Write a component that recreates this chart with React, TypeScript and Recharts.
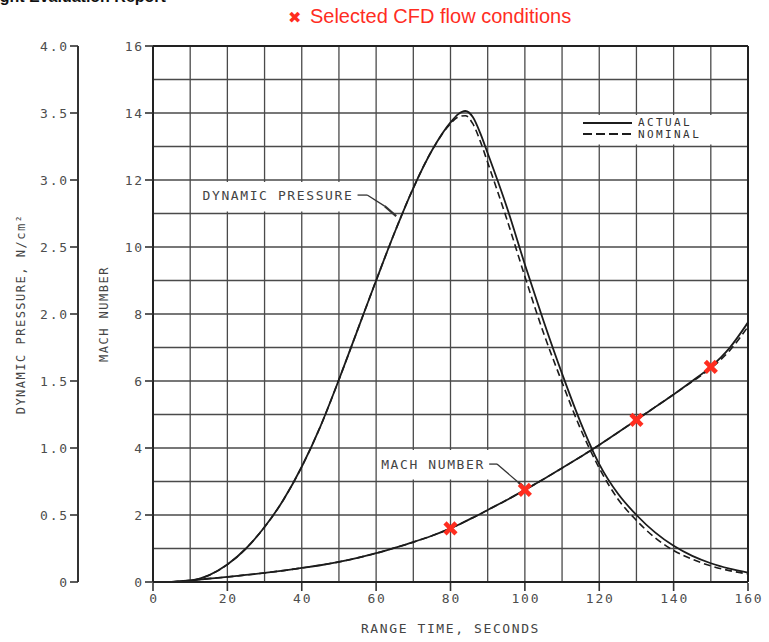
import {
  ComposedChart,
  Line,
  Scatter,
  XAxis,
  YAxis,
  CartesianGrid,
  Legend,
  ReferenceLine,
  ReferenceArea,
  ReferenceDot,
} from "recharts";

// range time, seconds
const times = [
  5, 10, 15, 20, 25, 30, 35, 40, 45, 50, 55, 60, 65, 70, 75, 80, 82, 84, 86, 88,
  90, 95, 100, 105, 110, 115, 120, 125, 130, 135, 140, 145, 150, 155, 160,
];
// dynamic pressure, N/cm2
const pressureActual = [
  0, 0.01, 0.05, 0.13, 0.25, 0.41, 0.61, 0.86, 1.16, 1.51, 1.88, 2.25, 2.61, 2.94,
  3.22, 3.43, 3.49, 3.515, 3.47, 3.35, 3.2, 2.81, 2.37, 1.95, 1.555, 1.19, 0.88,
  0.66, 0.5, 0.37, 0.27, 0.195, 0.14, 0.1, 0.07,
];
const pressureNominal = [
  0, 0.01, 0.05, 0.13, 0.25, 0.41, 0.61, 0.86, 1.16, 1.51, 1.88, 2.25, 2.61, 2.94,
  3.22, 3.42, 3.47, 3.48, 3.42, 3.29, 3.13, 2.72, 2.28, 1.86, 1.49, 1.14, 0.85,
  0.62, 0.46, 0.33, 0.235, 0.17, 0.12, 0.085, 0.06,
];
// mach number
const machActual = [
  0, 0.05, 0.1, 0.15, 0.21, 0.27, 0.34, 0.42, 0.5, 0.6, 0.72, 0.86, 1.02, 1.19,
  1.38, 1.6, 1.7, 1.81, 1.92, 2.03, 2.15, 2.44, 2.75, 3.07, 3.4, 3.74, 4.09, 4.46,
  4.84, 5.22, 5.6, 6.0, 6.42, 6.98, 7.75,
];
const machNominal = [
  0, 0.05, 0.1, 0.15, 0.21, 0.27, 0.34, 0.42, 0.5, 0.6, 0.72, 0.86, 1.02, 1.19,
  1.38, 1.6, 1.7, 1.81, 1.92, 2.03, 2.15, 2.44, 2.75, 3.07, 3.4, 3.74, 4.09, 4.46,
  4.84, 5.22, 5.6, 5.98, 6.38, 6.9, 7.62,
];

// selected CFD flow conditions
const cfdTimes = [80, 100, 130, 150];
const cfdMach = [1.6, 2.75, 4.84, 6.42];

const timeTicks = [0, 10, 20, 30, 40, 50, 60, 70, 80, 90, 100, 110, 120, 130, 140, 150, 160];
const pressureTicks = [0, 0.5, 1, 1.5, 2, 2.5, 3, 3.5, 4];
const machTicks = [0, 1, 2, 3, 4, 5, 6, 7, 8, 9, 10, 11, 12, 13, 14, 15, 16];
const legendLabels = ["ACTUAL", "NOMINAL"];

const rows = times.map((t, i) => ({
  t,
  pActual: pressureActual[i],
  pNominal: pressureNominal[i],
  mActual: machActual[i],
  mNominal: machNominal[i],
}));
const cfdPoints = cfdTimes.map((t, i) => ({ t, mach: cfdMach[i] }));

const mono = "'DejaVu Sans Mono', monospace";
const ink = "#1c1c1c";
const grey = "#4d4d4d";
const TICK = 8;
const MARGIN = 2;

const leftTick = (show: (v: number) => boolean, fmt: (v: number) => string) =>
  (props: any) => {
    const { x, y, payload } = props;
    const v = payload.value;
    if (!show(v)) return <g />;
    return (
      <g>
        <line x1={x + MARGIN} x2={x + MARGIN + TICK} y1={y} y2={y} stroke="#333" strokeWidth={1.6} />
        <text x={x + 1} y={y} dy="0.36em" textAnchor="end" fill={grey} fontSize={13}
          fontFamily={mono} style={{ letterSpacing: 1.8 }}>
          {fmt(v)}
        </text>
      </g>
    );
  };

const bottomTick = (props: any) => {
  const { x, y, payload } = props;
  const v = payload.value;
  if (v % 20 !== 0) return <g />;
  return (
    <g>
      <line x1={x} x2={x} y1={y - MARGIN - TICK} y2={y - MARGIN} stroke="#333" strokeWidth={1.6} />
      <text x={x + 1} y={y} dy="0.75em" textAnchor="middle" fill={grey} fontSize={13}
        fontFamily={mono} style={{ letterSpacing: 1.8 }}>
        {v}
      </text>
    </g>
  );
};

const XMark = (props: any) => {
  const { cx, cy } = props;
  const r = 5.5;
  return (
    <g stroke="#ff2d1f" strokeWidth={4.5}>
      <line x1={cx - r} y1={cy - r} x2={cx + r} y2={cy + r} />
      <line x1={cx - r} y1={cy + r} x2={cx + r} y2={cy - r} />
    </g>
  );
};

const LegendBox = () => (
  <div style={{ fontFamily: mono, fontSize: 11, letterSpacing: 2.4, color: "#333" }}>
    {legendLabels.map((lab, i) => (
      <div key={lab} style={{ display: "flex", alignItems: "center", height: 11.5 }}>
        <svg width={50} height={6}>
          <line x1={0} x2={49} y1={3} y2={3} stroke={ink} strokeWidth={2}
            strokeDasharray={i ? "9 4" : undefined} />
        </svg>
        <span style={{ marginLeft: 5, lineHeight: "11px" }}>{lab}</span>
      </div>
    ))}
  </div>
);

const noteLabel = (value: string) => ({
  value,
  position: "center" as const,
  fill: "#444",
  fontSize: 13,
  fontFamily: mono,
  style: { letterSpacing: 1.6 },
});

export default function App() {
  return (
    <div style={{ position: "absolute", left: 0, top: 0, width: 769, height: 642, overflow: "hidden", background: "#fff" }}>
      <ComposedChart
        width={769}
        height={642}
        data={rows}
        margin={{ top: 46, right: 21, bottom: 0, left: 0 }}
      >
        <CartesianGrid yAxisId="mach" stroke="#4a4a4a" strokeWidth={1.3} />
        <ReferenceArea yAxisId="mach" x1={10.4} x2={59.6} y1={11.06} y2={11.94} fill="#fff" fillOpacity={1} stroke="none" />
        <ReferenceArea yAxisId="mach" x1={60.4} x2={99.6} y1={3.06} y2={3.94} fill="#fff" fillOpacity={1} stroke="none" />
        <ReferenceArea yAxisId="mach" x1={110.4} x2={159.6} y1={13.06} y2={13.94} fill="#fff" fillOpacity={1} stroke="none" />
        <XAxis
          dataKey="t"
          type="number"
          domain={[0, 160]}
          ticks={timeTicks}
          height={60}
          tickSize={6}
          tickMargin={5}
          tickLine={false}
          tick={bottomTick}
          axisLine={{ stroke: "#222", strokeWidth: 2 }}
          label={{
            value: "RANGE TIME, SECONDS",
            position: "insideBottom",
            offset: 9,
            fill: "#444",
            fontSize: 13,
            fontFamily: mono,
            style: { letterSpacing: 1.6 },
          }}
        />
        <YAxis
          yAxisId="mach"
          domain={[0, 16]}
          ticks={machTicks}
          width={75}
          tickSize={TICK}
          tickMargin={MARGIN}
          tickLine={false}
          tick={leftTick((v) => v % 2 === 0, (v) => String(v))}
          axisLine={{ stroke: "#222", strokeWidth: 2 }}
          label={{
            value: "MACH NUMBER",
            angle: -90,
            position: "insideLeft",
            offset: 26,
            fill: "#444",
            fontSize: 12,
            fontFamily: mono,
            style: { textAnchor: "middle", letterSpacing: 1.5 },
          }}
        />
        <YAxis
          yAxisId="p"
          domain={[0, 4]}
          ticks={pressureTicks}
          width={78}
          tickSize={TICK}
          tickMargin={MARGIN}
          tickLine={false}
          tick={leftTick(() => true, (v) => (v === 0 ? "0" : v.toFixed(1)))}
          axisLine={{ stroke: "#333", strokeWidth: 2 }}
          label={{
            value: "DYNAMIC PRESSURE, N/cm²",
            angle: -90,
            position: "insideLeft",
            offset: 21,
            fill: "#444",
            fontSize: 12,
            fontFamily: mono,
            style: { textAnchor: "middle", letterSpacing: 1.5 },
          }}
        />
        <ReferenceLine yAxisId="mach" y={16} stroke="#222" strokeWidth={2} />
        <ReferenceLine yAxisId="mach" x={160} stroke="#222" strokeWidth={2} />

        {/* leader lines for the curve notes */}
        <ReferenceLine yAxisId="mach" segment={[{ x: 55, y: 11.55 }, { x: 57.6, y: 11.55 }]} stroke="#333" strokeWidth={1.3} />
        <ReferenceLine yAxisId="mach" segment={[{ x: 57.6, y: 11.55 }, { x: 62.3, y: 11.22 }]} stroke="#333" strokeWidth={1.3} />
        <ReferenceLine yAxisId="mach" segment={[{ x: 62.3, y: 11.22 }, { x: 65.4, y: 10.92 }]} stroke="#333" strokeWidth={2.2} />
        <ReferenceLine yAxisId="mach" segment={[{ x: 90.4, y: 3.52 }, { x: 92.5, y: 3.52 }]} stroke="#333" strokeWidth={1.3} />
        <ReferenceLine yAxisId="mach" segment={[{ x: 92.5, y: 3.52 }, { x: 98.2, y: 2.98 }]} stroke="#333" strokeWidth={1.3} />
        <ReferenceLine yAxisId="mach" segment={[{ x: 98.2, y: 2.98 }, { x: 99.5, y: 2.86 }]} stroke="#333" strokeWidth={2.2} />
        <ReferenceDot yAxisId="mach" x={33.6} y={11.55} r={0} stroke="none" label={noteLabel("DYNAMIC PRESSURE")} />
        <ReferenceDot yAxisId="mach" x={75.3} y={3.5} r={0} stroke="none" label={noteLabel("MACH NUMBER")} />

        <Line yAxisId="p" dataKey="pActual" type="monotone" stroke={ink} strokeWidth={1.8} dot={false} isAnimationActive={false} />
        <Line yAxisId="p" dataKey="pNominal" type="monotone" stroke={ink} strokeWidth={1.6} strokeDasharray="7 4" dot={false} isAnimationActive={false} />
        <Line yAxisId="mach" dataKey="mActual" type="monotone" stroke={ink} strokeWidth={1.8} dot={false} isAnimationActive={false} />
        <Line yAxisId="mach" dataKey="mNominal" type="monotone" stroke={ink} strokeWidth={1.6} strokeDasharray="7 4" dot={false} isAnimationActive={false} />
        <Scatter yAxisId="mach" data={cfdPoints} dataKey="mach" shape={XMark} isAnimationActive={false} />

        <Legend
          content={<LegendBox />}
          layout="horizontal"
          verticalAlign="middle"
          align="center"
          wrapperStyle={{ left: 583, top: 117, width: "auto" }}
        />
      </ComposedChart>

      <div
        style={{
          position: "absolute",
          left: -19,
          top: -11,
          fontFamily: "'Liberation Sans', Arial, sans-serif",
          fontWeight: 700,
          fontSize: 16,
          lineHeight: "16px",
          whiteSpace: "nowrap",
          color: "#111",
        }}
      >
        Flight Evaluation Report
      </div>
      <div
        style={{
          position: "absolute",
          left: 288,
          top: 4,
          fontFamily: "'Liberation Sans', Arial, sans-serif",
          fontSize: 20,
          lineHeight: "24px",
          whiteSpace: "nowrap",
          color: "#ff2d1f",
        }}
      >
        <span style={{ fontFamily: "'DejaVu Sans', sans-serif", fontSize: 16, marginRight: 3 }}>✖</span> Selected CFD flow conditions
      </div>
    </div>
  );
}
